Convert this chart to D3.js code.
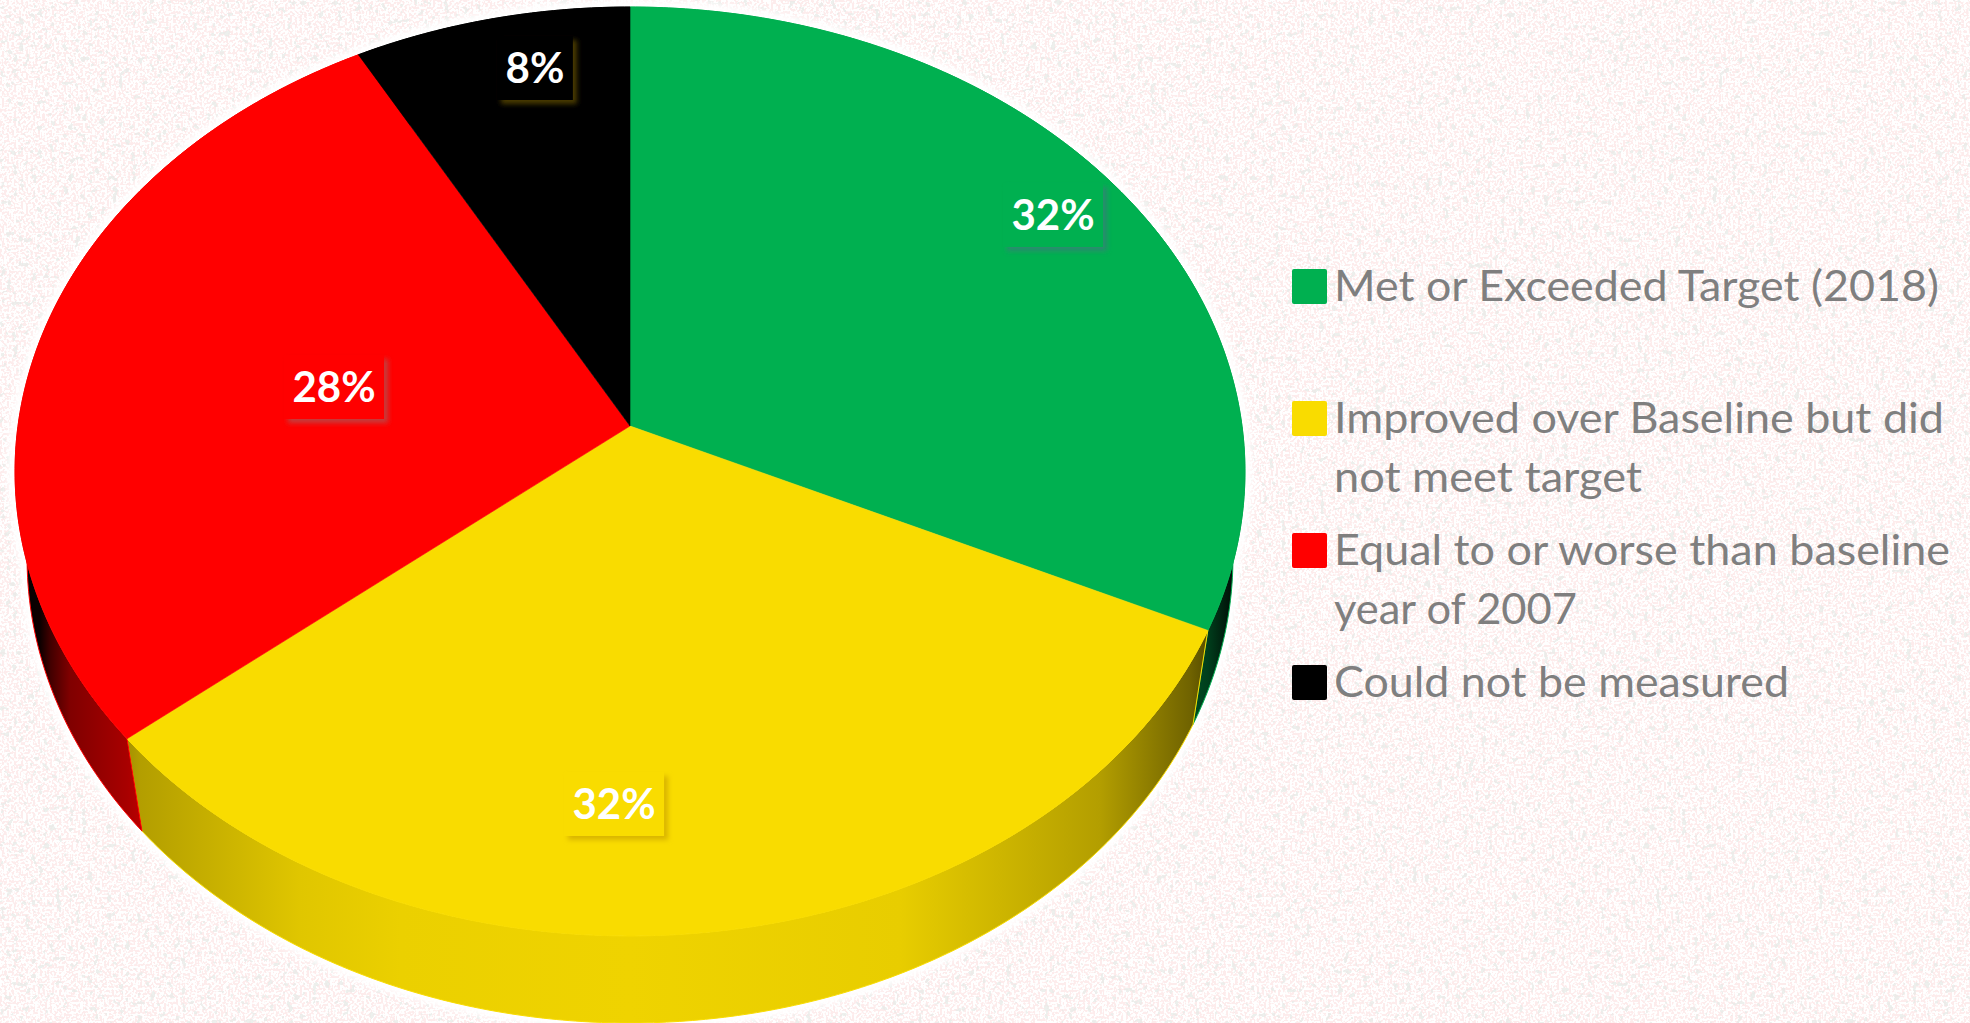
<!DOCTYPE html>
<html><head><meta charset="utf-8">
<script src="https://cdn.jsdelivr.net/npm/d3@7/dist/d3.min.js"></script>
<style>html,body{margin:0;padding:0;background:#fff;overflow:hidden}svg{display:block}</style>
</head><body><svg id="chart" width="1970" height="1023" xmlns="http://www.w3.org/2000/svg"></svg>
<script>
const categories = ["Met or Exceeded Target (2018)", "Improved over Baseline but did not meet target", "Equal to or worse than baseline year of 2007", "Could not be measured"];
const values = [32, 32, 28, 8];
const valueLabels = ["32%", "32%", "28%", "8%"];
const colors = ["#00b050", "#f9dc00", "#ff0000", "#000000"];
const legendLines = [["Met or Exceeded Target (2018)"], ["Improved over Baseline but did", "not meet target"], ["Equal to or worse than baseline", "year of 2007"], ["Could not be measured"]];

// layout
const W = 1970, H = 1023;
const P = {cx: 630, cy: 426, R: 612, Hv: 460, k: 0.0979};
const Q = {cx: 630, cy: 520.8, R: 601, Hv: 462, k: 0.08};
const labelCenters = [[1053, 215], [614, 804], [334, 387], [535, 68]];
const labelShadow = ["#2b8a6e", "#d9b500", "#c43c3c", "#4a3a00"];
const legendSwatchY = [269, 401, 533, 665];
const legendBase = [[301], [433, 492], [565, 624], [697]];
const legendWidth = [[605], [610, 308], [616, 243], [455]];
const shade = [[15,0],[40,.05],[50,.25],[70,.5],[127,.66],[140,.72],[300,.9],[400,.945],[630,.96],[900,.93],[1100,.72],[1190,.45],[1208,.35],[1235,.05],[1245,0]];

const svg = d3.select("#chart");
const defs = svg.append("defs");

// background texture
const pink = defs.append("filter").attr("id","pinkNoise").attr("x",0).attr("y",0).attr("width",1).attr("height",1).attr("color-interpolation-filters","sRGB");
pink.append("feTurbulence").attr("type","fractalNoise").attr("baseFrequency",0.42).attr("numOctaves",1).attr("seed",4);
pink.append("feColorMatrix").attr("values","0 0 0 0 0.99  0 0 0 0 0.89  0 0 0 0 0.89  14 0 0 0 -6.7");
const grey = defs.append("filter").attr("id","greyNoise").attr("x",0).attr("y",0).attr("width",1).attr("height",1).attr("color-interpolation-filters","sRGB");
grey.append("feTurbulence").attr("type","fractalNoise").attr("baseFrequency",0.16).attr("numOctaves",2).attr("seed",9);
grey.append("feColorMatrix").attr("values","0 0 0 0 0.91  0 0 0 0 0.92  0 0 0 0 0.91  26 0 0 0 -16.8");
defs.append("filter").attr("id","soft").attr("x","-20%").attr("y","-20%").attr("width","140%").attr("height","140%").append("feGaussianBlur").attr("stdDeviation",2.8);
defs.append("filter").attr("id","haloBlur").attr("x","-5%").attr("y","-5%").attr("width","110%").attr("height","110%").append("feGaussianBlur").attr("stdDeviation",3);

svg.append("rect").attr("width",W).attr("height",H).attr("fill","#fff");
svg.append("rect").attr("width",W).attr("height",H).attr("filter","url(#pinkNoise)").attr("opacity",0.65);
svg.append("rect").attr("width",W).attr("height",H).attr("filter","url(#greyNoise)").attr("opacity",0.75);

// perspective projection of a pie disc
const project = D => a => {
  const u = Math.sin(a), v = Math.cos(a), w = 1 + D.k * v;
  return [D.cx + D.R * u / w, D.cy - D.Hv * v / w];
};
const topRim = project(P), bottomRim = project(Q);
const pie = d3.pie().sort(null).value(d => d);
const arcs = pie(values);
const line = d3.line();
function rim(f, a0, a1){
  const n = Math.max(2, Math.ceil((a1 - a0) / 0.01));
  return d3.range(n + 1).map(i => f(a0 + (a1 - a0) * i / n));
}
const xFrac = d3.scaleLinear().domain([15, 1245]).range([0, 1]);
colors.forEach((c, i) => {
  const g = defs.append("linearGradient").attr("id","side"+i).attr("gradientUnits","userSpaceOnUse")
    .attr("x1",15).attr("y1",0).attr("x2",1245).attr("y2",0);
  shade.forEach(s => g.append("stop").attr("offset",xFrac(s[0])).attr("stop-color",d3.interpolateRgb("#000",c)(s[1])));
});

// white halo round the silhouette
const full = 2 * Math.PI;
const haloG = svg.append("g").attr("filter","url(#haloBlur)").attr("fill","#fff").attr("stroke","#fff").attr("stroke-width",14);
haloG.append("path").attr("d", line(rim(topRim,0,full)) + "Z");
haloG.append("path").attr("d", line(rim(bottomRim,0,full)) + "Z");

// side walls
svg.append("g").selectAll("path").data(arcs).join("path")
  .attr("d", d => line(rim(topRim,d.startAngle,d.endAngle).concat(rim(bottomRim,d.startAngle,d.endAngle).reverse())) + "Z")
  .attr("fill",(d,i) => `url(#side${i})`)
  .attr("stroke",(d,i) => colors[i]).attr("stroke-width",1);

// top face
svg.append("g").selectAll("path").data(arcs).join("path")
  .attr("d", d => line([[P.cx,P.cy]].concat(rim(topRim,d.startAngle,d.endAngle))) + "Z")
  .attr("fill",(d,i) => colors[i]).attr("stroke",(d,i) => colors[i]).attr("stroke-width",0.6);

// data labels
const lab = svg.append("g").selectAll("g").data(arcs).join("g");
const txt = lab.append("text").text((d,i) => valueLabels[i])
  .attr("x",(d,i) => labelCenters[i][0]).attr("y",(d,i) => labelCenters[i][1] + 15)
  .attr("text-anchor","middle").attr("font-family","Lato").attr("font-weight",700).attr("font-size",42).attr("fill","#fff");
txt.each(function(d,i){
  const w = this.getComputedTextLength() + 17, h = 64, c = labelCenters[i];
  const parent = d3.select(this.parentNode);
  parent.insert("rect","text").attr("x",c[0]-w/2+4).attr("y",c[1]-h/2+4).attr("width",w).attr("height",h).attr("fill",labelShadow[i]).attr("filter","url(#soft)");
  parent.insert("rect","text").attr("x",c[0]-w/2).attr("y",c[1]-h/2).attr("width",w).attr("height",h).attr("fill",colors[i]);
});

// legend
const leg = svg.append("g").selectAll("g").data(categories).join("g");
leg.append("rect").attr("x",1292).attr("y",(d,i) => legendSwatchY[i]).attr("width",35).attr("height",35).attr("rx",2).attr("fill",(d,i) => colors[i]);
leg.each(function(d,i){
  d3.select(this).selectAll("text").data(legendLines[i]).join("text").text(t => t)
    .attr("x",1334).attr("y",(t,j) => legendBase[i][j])
    .attr("textLength",(t,j) => legendWidth[i][j]).attr("lengthAdjust","spacingAndGlyphs")
    .attr("font-family","Lato").attr("font-size",43).attr("fill","#7f7f7f");
});
</script></body></html>
